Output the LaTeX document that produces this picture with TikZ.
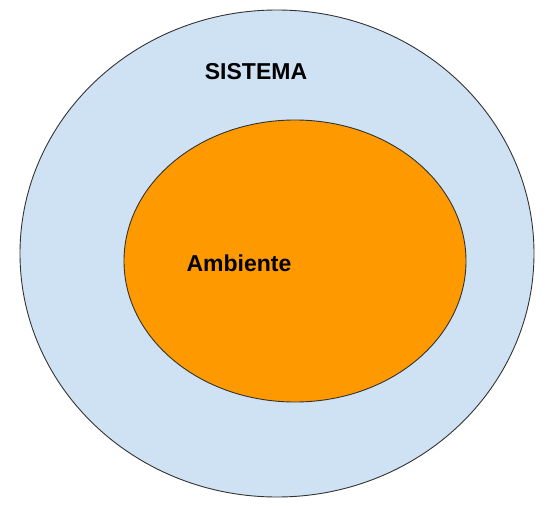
\documentclass[tikz,border=0pt]{standalone}
\usepackage{fontspec}
\setmainfont{Liberation Sans}
\definecolor{sisline}{HTML}{333333}
\definecolor{sisfill}{HTML}{CFE2F3}
\definecolor{ambfill}{HTML}{FF9900}
\tikzset{
  elip/.style={draw=sisline,line width=0.9pt},
  rotulo/.style={font=\fontsize{23}{27}\selectfont\bfseries,text=black,inner sep=0pt},
}
\begin{document}
\begin{tikzpicture}[x=1pt,y=-1pt]
  \useasboundingbox (0,0) rectangle (547,514);
  % sistema
  \draw[elip,fill=sisfill] (277,253.5) ellipse [x radius=257,y radius=243.5];
  % ambiente
  \draw[elip,fill=ambfill] (295,261) ellipse [x radius=171,y radius=141];
  % rotulos
  \node[rotulo] (sistema) at (256,72) {SISTEMA};
  \node[rotulo] (ambiente) at (239,263) {Ambiente};
\end{tikzpicture}
\end{document}
